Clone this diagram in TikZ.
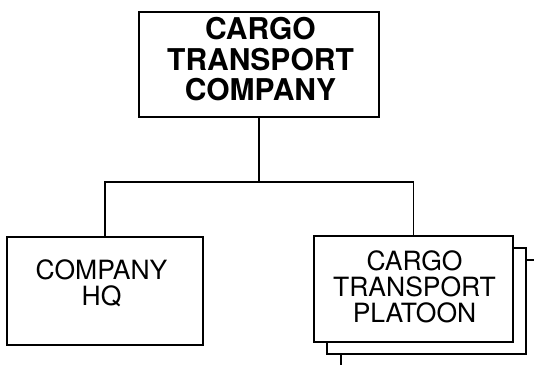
\documentclass[tikz,border=0pt]{standalone}
\usepackage{fontspec}
\setmainfont{TeX Gyre Heros}
\begin{document}
\begin{tikzpicture}[x=1pt,y=-1pt,
  boxstyle/.style={draw,line width=2pt,fill=white,rectangle,inner sep=0pt},
  bigtext/.style={inner sep=0pt,align=center,font=\fontsize{30}{30.5}\selectfont\bfseries},
  smalltext/.style={inner sep=0pt,align=center,font=\fontsize{26.5}{25.8}\selectfont},
  conn/.style={line width=1.8pt}]
\useasboundingbox (0,0) rectangle (534,364);
\clip (0,0) rectangle (534,364);
% boxes
\node[boxstyle,minimum width=240pt,minimum height=105pt] (top) at (259,64.5) {};
\node[boxstyle,minimum width=196pt,minimum height=108pt] (hq) at (105,291) {};
\node[boxstyle,minimum width=199pt,minimum height=106pt] (shadowb) at (440.5,313) {};
\node[boxstyle,minimum width=199pt,minimum height=106pt] (shadowa) at (426.5,301) {};
\node[boxstyle,minimum width=199pt,minimum height=106pt] (plt) at (413.5,289) {};
% texts
\node[bigtext] (toptext) at (260.5,59.5) {CARGO\\TRANSPORT\\COMPANY};
\node[smalltext] (hqtext) at (101.5,283.5) {COMPANY\\HQ};
\node[smalltext] (plttext) at (414.5,287) {CARGO\\TRANSPORT\\PLATOON};
% connectors
\coordinate (bus) at (259,182);
\draw[conn] (top.south) -- (bus);
\draw[conn] (hq.north) |- (bus) -| (plt.north);
\end{tikzpicture}
\end{document}
